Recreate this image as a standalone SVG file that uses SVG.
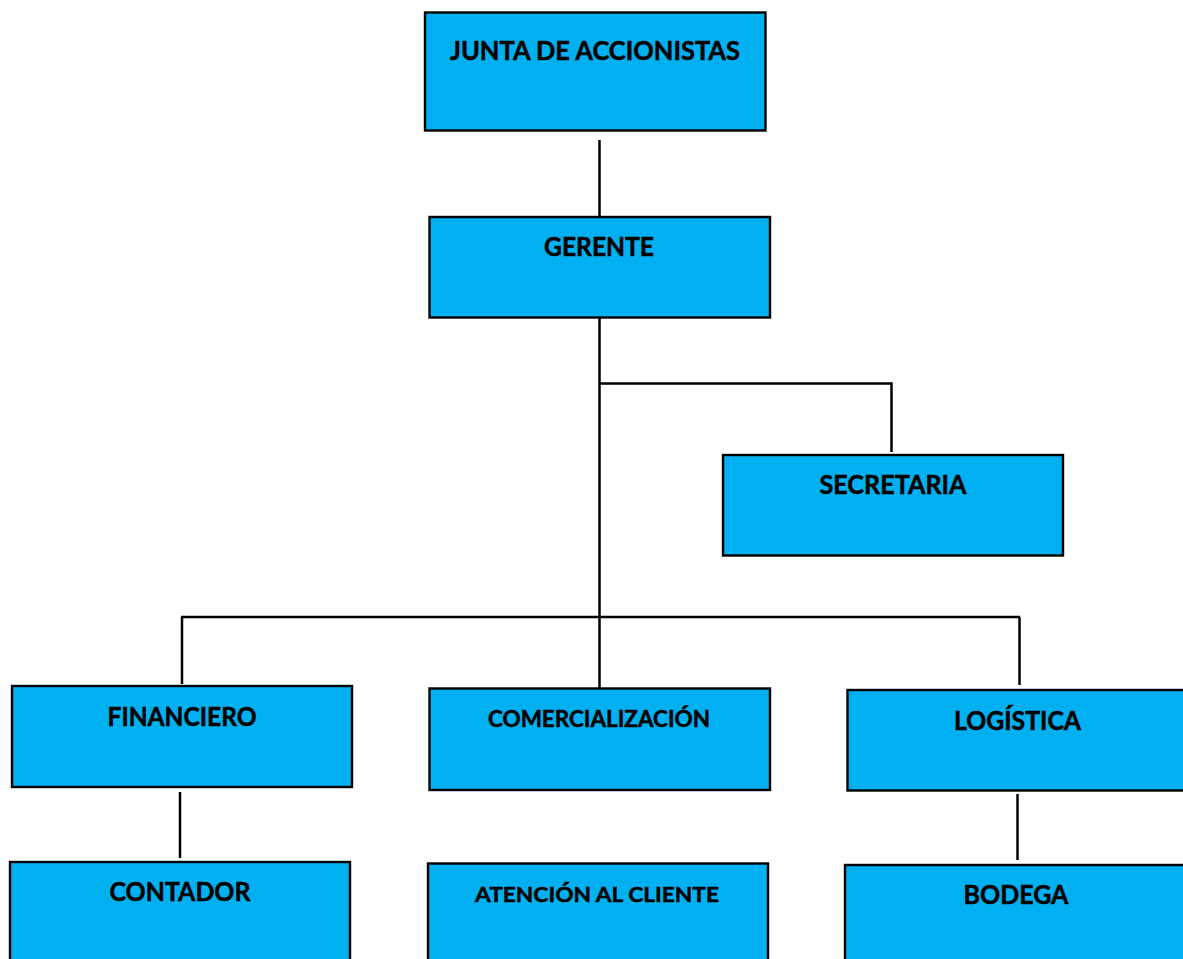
<svg xmlns="http://www.w3.org/2000/svg" width="1183" height="959" viewBox="0 0 1183 959">
<style>
.box{fill:#00B0F0;stroke:#000;stroke-width:2.4}
.t{font-family:Lato,"Liberation Sans",sans-serif;font-weight:bold;font-size:26px;fill:#000;stroke:#000;stroke-width:0.5}
.s{font-size:22.5px}
.xs{font-size:21.5px}
.c{stroke:#000;stroke-width:2.5;fill:none}
</style>
<rect width="1183" height="959" fill="#fff"/>
<g id="connectors">
<line class="c" x1="599.5" y1="140" x2="599.5" y2="217"/>
<line class="c" x1="599.5" y1="317" x2="599.5" y2="688"/>
<polyline class="c" points="599.5,383.5 891.5,383.5 891.5,452"/>
<line class="c" x1="181" y1="617" x2="1020" y2="617"/>
<line class="c" x1="182" y1="617" x2="182" y2="684"/>
<line class="c" x1="1019.5" y1="617" x2="1019.5" y2="685"/>
<line class="c" x1="180" y1="792" x2="180" y2="858"/>
<line class="c" x1="1017.5" y1="794" x2="1017.5" y2="860"/>
</g>
<g id="junta"><rect class="box" x="425" y="12.5" width="340.5" height="118"/><text class="t" x="595" y="60" text-anchor="middle" textLength="290" lengthAdjust="spacingAndGlyphs">JUNTA DE ACCIONISTAS</text></g>
<g id="gerente"><rect class="box" x="429.5" y="217" width="340.5" height="100.5"/><text class="t" x="599" y="256" text-anchor="middle" textLength="110" lengthAdjust="spacingAndGlyphs">GERENTE</text></g>
<g id="secretaria"><rect class="box" x="723" y="455" width="340" height="100.5"/><text class="t" x="893" y="494" text-anchor="middle" textLength="147" lengthAdjust="spacingAndGlyphs">SECRETARIA</text></g>
<g id="financiero"><rect class="box" x="12" y="686" width="340" height="101"/><text class="t" x="182" y="726" text-anchor="middle" textLength="149" lengthAdjust="spacingAndGlyphs">FINANCIERO</text></g>
<g id="comercializacion"><rect class="box" x="429.5" y="688.5" width="340.5" height="101.5"/><text class="t s" x="599" y="727" text-anchor="middle" textLength="222" lengthAdjust="spacingAndGlyphs">COMERCIALIZACIÓN</text></g>
<g id="logistica"><rect class="box" x="847.5" y="690" width="345" height="100.5"/><text class="t" x="1017.5" y="729.5" text-anchor="middle" textLength="127" lengthAdjust="spacingAndGlyphs">LOGÍSTICA</text></g>
<g id="contador"><rect class="box" x="10" y="862" width="340" height="110"/><text class="t" x="180" y="901" text-anchor="middle" textLength="141" lengthAdjust="spacingAndGlyphs">CONTADOR</text></g>
<g id="atencion"><rect class="box" x="428" y="863.5" width="340" height="110"/><text class="t xs" x="597" y="902" text-anchor="middle" textLength="244" lengthAdjust="spacingAndGlyphs">ATENCIÓN AL CLIENTE</text></g>
<g id="bodega"><rect class="box" x="845" y="865" width="345" height="110"/><text class="t" x="1016" y="904" text-anchor="middle" textLength="105" lengthAdjust="spacingAndGlyphs">BODEGA</text></g>
</svg>
